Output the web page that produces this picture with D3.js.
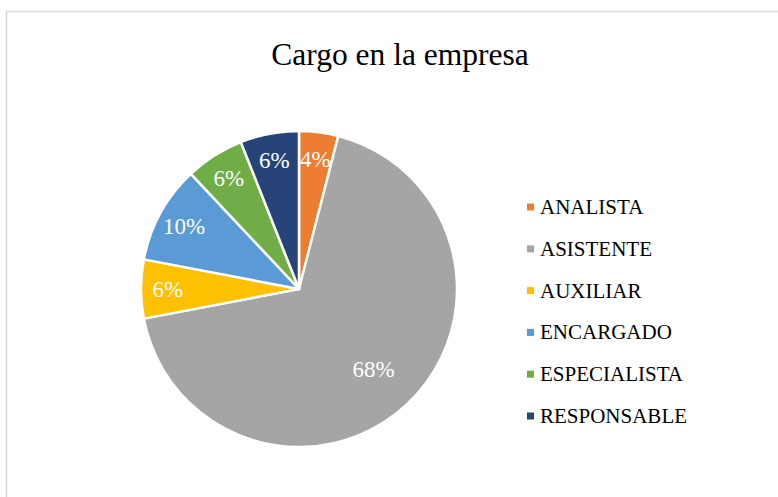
<!DOCTYPE html>
<html>
<head>
<meta charset="utf-8">
<script src="https://cdn.jsdelivr.net/npm/d3@7"></script>
<style>
  body { margin: 0; background: #fff; }
  svg { display: block; }
  svg text { font-family: "Liberation Serif", "Times New Roman", serif; }
</style>
</head>
<body>
<svg id="chart" width="778" height="497"></svg>
<script>
// data
const categories = ['ANALISTA', 'ASISTENTE', 'AUXILIAR', 'ENCARGADO', 'ESPECIALISTA', 'RESPONSABLE'];
const counts = [2, 34, 3, 5, 3, 3];
const colors = ['#ED7D31', '#A5A5A5', '#FFC000', '#5B9BD5', '#70AD47', '#264478'];
const title = 'Cargo en la empresa';

const svg = d3.select('#chart');
const width = 778, height = 497;

// chart frame
svg.append('rect')
    .attr('x', 6.5)
    .attr('y', 11.5)
    .attr('width', 790)
    .attr('height', 520)
    .style('fill', 'white')
    .style('stroke', '#d9d9d9')
    .style('stroke-width', 1.5);

svg.append('text')
    .attr('x', 400)
    .attr('y', 65)
    .attr('text-anchor', 'middle')
    .style('font-size', '31.5px')
    .style('fill', '#000')
    .text(title);

const cx = 299, cy = 289, radius = 158;
const total = d3.sum(counts);

const pie = d3.pie().sort(null).value(d => d.value);
const data = categories.map((c, i) => ({ name: c, value: counts[i], color: colors[i] }));
const arcs = pie(data);

const arc = d3.arc().innerRadius(0).outerRadius(radius);

const g = svg.append('g').attr('transform', `translate(${cx},${cy})`);

g.selectAll('path')
    .data(arcs)
    .join('path')
    .attr('d', arc)
    .style('fill', d => d.data.color)
    .style('stroke', 'white')
    .style('stroke-width', 2.5)
    .style('stroke-linejoin', 'round');

// small slices get their label near the rim, big one further in
g.selectAll('text.lbl')
    .data(arcs)
    .join('text')
    .attr('class', 'lbl')
    .attr('transform', d => {
        const share = d.data.value / total;
        const r = radius * (share > 0.5 ? 0.69 : 0.83);
        const a = (d.startAngle + d.endAngle) / 2;
        return `translate(${r * Math.sin(a)},${-r * Math.cos(a)})`;
    })
    .attr('text-anchor', 'middle')
    .attr('dy', '0.35em')
    .style('font-family', '"Liberation Serif", serif')
    .style('font-size', '23px')
    .style('fill', 'white')
    .text(d => Math.round(d.data.value / total * 100) + '%');

// legend
const legendY = d3.scalePoint().domain(categories).range([214, 423]);

const legend = svg.append('g');
legend.selectAll('rect')
    .data(data)
    .join('rect')
    .attr('x', 527)
    .attr('y', d => legendY(d.name) - 10.5)
    .attr('width', 7)
    .attr('height', 7)
    .style('fill', d => d.color);

legend.selectAll('text')
    .data(data)
    .join('text')
    .attr('x', 540)
    .attr('y', d => legendY(d.name))
    .style('font-size', '21px')
    .style('fill', '#000')
    .text(d => d.name);
</script>
</body>
</html>
